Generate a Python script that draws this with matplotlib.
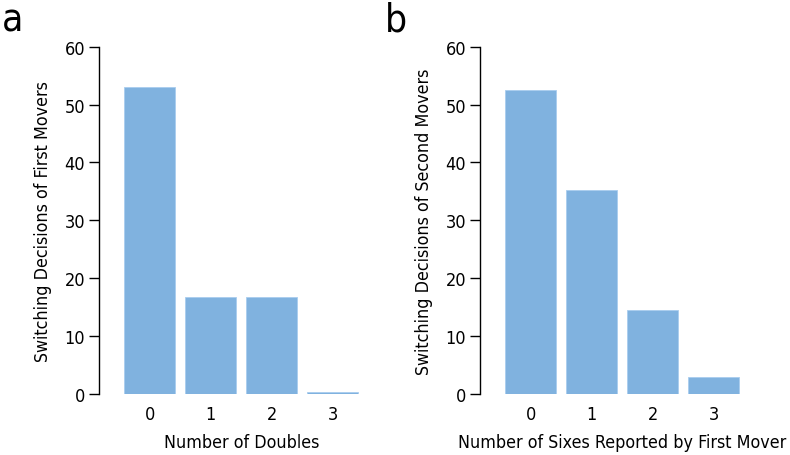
import matplotlib
matplotlib.use("Agg")
import matplotlib.pyplot as plt
from matplotlib import font_manager as fm

# condensed face if one is installed (reference uses a narrow sans)
family = "DejaVu Sans"
for path in fm.findSystemFonts():
    name = path.split("/")[-1]
    if name in ("LiberationSansNarrow-Regular.ttf", "DejaVuSansCondensed.ttf"):
        fm.fontManager.addfont(path)
        family = fm.FontProperties(fname=path).get_name()
        if "Narrow" in name:
            break
plt.rcParams["font.family"] = [family, "DejaVu Sans"]
if family == "DejaVu Sans":
    plt.rcParams["font.stretch"] = "condensed"

# panel a: first movers
doubles = [0, 1, 2, 3]
first_movers = [53.0, 16.7, 16.7, 0.3]
# panel b: second movers
sixes = [0, 1, 2, 3]
second_movers = [52.6, 35.2, 14.5, 3.0]

yticks = [0, 10, 20, 30, 40, 50, 60]
BLUE = "#80b2df"

fig = plt.figure(figsize=(7.9, 4.56), dpi=100)

def panel(rect, x, y, xlabel, ylabel, letter, letter_x):
    ax = fig.add_axes(rect)
    ax.bar(x, y, width=0.83, color=BLUE, edgecolor="#a9cdee", linewidth=0.6)
    ax.set_xlim(-0.83, 3.83)
    ax.set_ylim(0, 60)
    ax.set_xticks(x)
    ax.set_yticks(yticks)
    for s in ("top", "right", "bottom"):
        ax.spines[s].set_visible(False)
    ax.spines["left"].set_linewidth(1.0)
    ax.spines["left"].set_bounds(0, 60)
    ax.tick_params(axis="x", length=0, pad=8, labelsize=13)
    ax.tick_params(axis="y", length=7, width=1.0, pad=3, labelsize=13)
    ax.set_xlabel(xlabel, fontsize=12.8, labelpad=7)
    ax.set_ylabel(ylabel, fontsize=12.8, labelpad=9)
    fig.text(letter_x, 1 - 31 / 456, letter, fontsize=28, va="baseline", ha="left")
    return ax

panel([99 / 790, 61 / 456, 284.5 / 790, 347.3 / 456], doubles, first_movers,
      "Number of Doubles", "Switching Decisions of First Movers", "a", 0.003)
panel([480 / 790, 61 / 456, 284.5 / 790, 347.3 / 456], sixes, second_movers,
      "Number of Sixes Reported by First Mover",
      "Switching Decisions of Second Movers", "b", 0.487)

fig.savefig("out.png", dpi=100)
